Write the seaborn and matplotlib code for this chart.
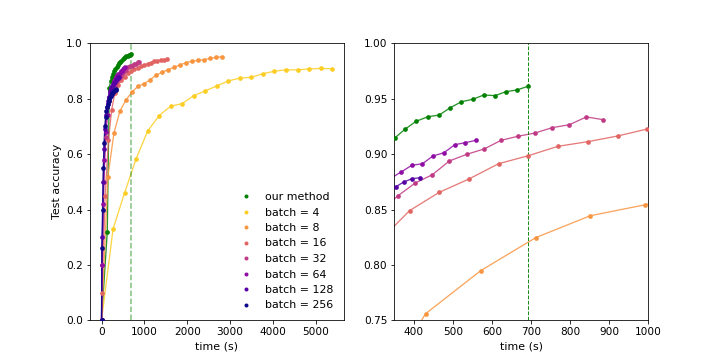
import numpy as np
import pandas as pd
import matplotlib
matplotlib.use("Agg")
import matplotlib.pyplot as plt
from matplotlib.lines import Line2D
import seaborn as sns

labels = ["our method", "batch = 4", "batch = 8", "batch = 16", "batch = 32",
          "batch = 64", "batch = 128", "batch = 256"]

t_ours = [0, 134, 182, 210, 238, 267, 295, 323, 352, 377, 406, 436, 465, 493,
          522, 551, 579, 608, 636, 664, 692]
acc_ours = [0.0, 0.32, 0.84, 0.862, 0.878, 0.889, 0.899, 0.907, 0.9148, 0.9224,
            0.9296, 0.9337, 0.9352, 0.9418, 0.9472, 0.9494, 0.9533, 0.9527,
            0.9563, 0.9578, 0.9611]

t_b4 = [0, 269, 538, 807, 1076, 1345, 1614, 1883, 2152, 2421, 2690, 2959, 3228,
        3497, 3766, 4035, 4304, 4573, 4842, 5111, 5380]
acc_b4 = [0.0, 0.33, 0.46, 0.583, 0.683, 0.739, 0.773, 0.782, 0.811, 0.828,
          0.846, 0.864, 0.874, 0.877, 0.890, 0.899, 0.904, 0.904, 0.907, 0.909,
          0.908]

t_b8 = [0, 148, 289, 430, 571, 712, 852, 993, 1134, 1274, 1415, 1555, 1696,
        1836, 1977, 2117, 2258, 2398, 2539, 2680, 2820]
acc_b8 = [0.0, 0.518, 0.675, 0.756, 0.7948, 0.8246, 0.8444, 0.8543, 0.868,
          0.885, 0.895, 0.905, 0.913, 0.922, 0.930, 0.935, 0.938, 0.941, 0.945,
          0.949, 0.951]

t_b16 = [0, 9, 85, 161, 237, 313, 389, 465, 541, 617, 693, 769, 846, 922, 998,
         1074, 1150, 1226, 1302, 1378, 1455, 1531]
acc_b16 = [0.0, 0.10, 0.45, 0.65, 0.76, 0.822, 0.849, 0.8655, 0.8775, 0.8913,
           0.8985, 0.907, 0.9112, 0.9163, 0.9226, 0.926, 0.930, 0.934, 0.937,
           0.939, 0.941, 0.942]

t_b32 = [0, 10, 54, 98, 141, 185, 229, 272, 316, 359.5, 403.8, 447.4, 491,
         535.6, 580, 623.5, 667, 710.7, 754, 798.6, 842, 885.8]
acc_b32 = [0.0, 0.20, 0.50, 0.66, 0.74, 0.79, 0.815, 0.835, 0.849, 0.8625,
           0.874, 0.8814, 0.8938, 0.8998, 0.9046, 0.9124, 0.9161, 0.919,
           0.9238, 0.9265, 0.9335, 0.931]

t_b64 = [0, 11, 38, 66, 93, 121, 148, 175, 203, 230, 258, 285, 312, 340, 367,
         395, 422, 449, 477, 505, 532, 559]
acc_b64 = [0.0, 0.20, 0.42, 0.58, 0.68, 0.74, 0.78, 0.805, 0.825, 0.84, 0.852,
           0.862, 0.870, 0.878, 0.8838, 0.8899, 0.8913, 0.8983, 0.9012, 0.9085,
           0.9103, 0.9124]

t_b128 = [0, 20.8, 41.6, 62, 83, 104, 125, 146, 166, 187, 208, 229, 250, 270,
          291, 312, 333, 354, 374, 395, 416]
acc_b128 = [0.0, 0.30, 0.50, 0.62, 0.69, 0.74, 0.77, 0.79, 0.805, 0.818, 0.828,
            0.837, 0.844, 0.85, 0.856, 0.861, 0.866, 0.8706, 0.8748, 0.8778,
            0.8787]

t_b256 = [0, 6, 24, 41, 59, 77, 95, 113, 130, 148, 166, 184, 202, 219, 237, 255,
          273, 291, 309, 326, 338]
acc_b256 = [0.0, 0.26, 0.40, 0.55, 0.64, 0.70, 0.735, 0.755, 0.77, 0.78, 0.79,
            0.798, 0.805, 0.81, 0.815, 0.82, 0.824, 0.827, 0.83, 0.832, 0.834]

series_t = [t_ours, t_b4, t_b8, t_b16, t_b32, t_b64, t_b128, t_b256]
series_a = [acc_ours, acc_b4, acc_b8, acc_b16, acc_b32, acc_b64, acc_b128, acc_b256]

plasma = plt.get_cmap("plasma")
colors = ["green"] + [plasma(v) for v in np.linspace(0.9, 0.0, 7)]

frames = []
for lab, t, a in zip(labels, series_t, series_a):
    frames.append(pd.DataFrame({"time": t, "acc": a, "method": lab}))
df = pd.concat(frames, ignore_index=True)

fig, axes = plt.subplots(1, 2, figsize=(10, 5), dpi=72)

for ax in axes:
    for lab, col in zip(labels, colors):
        sub = df[df["method"] == lab]
        sns.lineplot(data=sub, x="time", y="acc", ax=ax, color=col,
                     linewidth=1.3, alpha=0.85, sort=False, legend=False,
                     errorbar=None)
        sns.scatterplot(data=sub, x="time", y="acc", ax=ax, color=col,
                        s=22, linewidth=0, legend=False, zorder=3)
    ax.tick_params(labelsize=10.5)

t_end = t_ours[-1]
axes[0].axvline(t_end, color="green", linestyle="--", linewidth=1.5, alpha=0.5)
axes[1].axvline(t_end, color="green", linestyle="--", linewidth=1.0, alpha=0.9)

axes[0].set_ylim(0, 1.0)
axes[0].set_ylabel("Test accuracy", fontsize=11)
axes[0].set_xlabel("time (s)", fontsize=11)
axes[1].set_xlim(350, 1000)
axes[1].set_ylim(0.75, 1.0)
axes[1].set_xlabel("time (s)", fontsize=11)
axes[1].set_ylabel("")

handles = [Line2D([0], [0], marker="o", linestyle="", color=c,
                  markersize=4, markeredgewidth=0) for c in colors]
axes[0].legend(handles, labels, loc="lower right", frameon=False, fontsize=11)

fig.savefig("out.png", dpi=72)
